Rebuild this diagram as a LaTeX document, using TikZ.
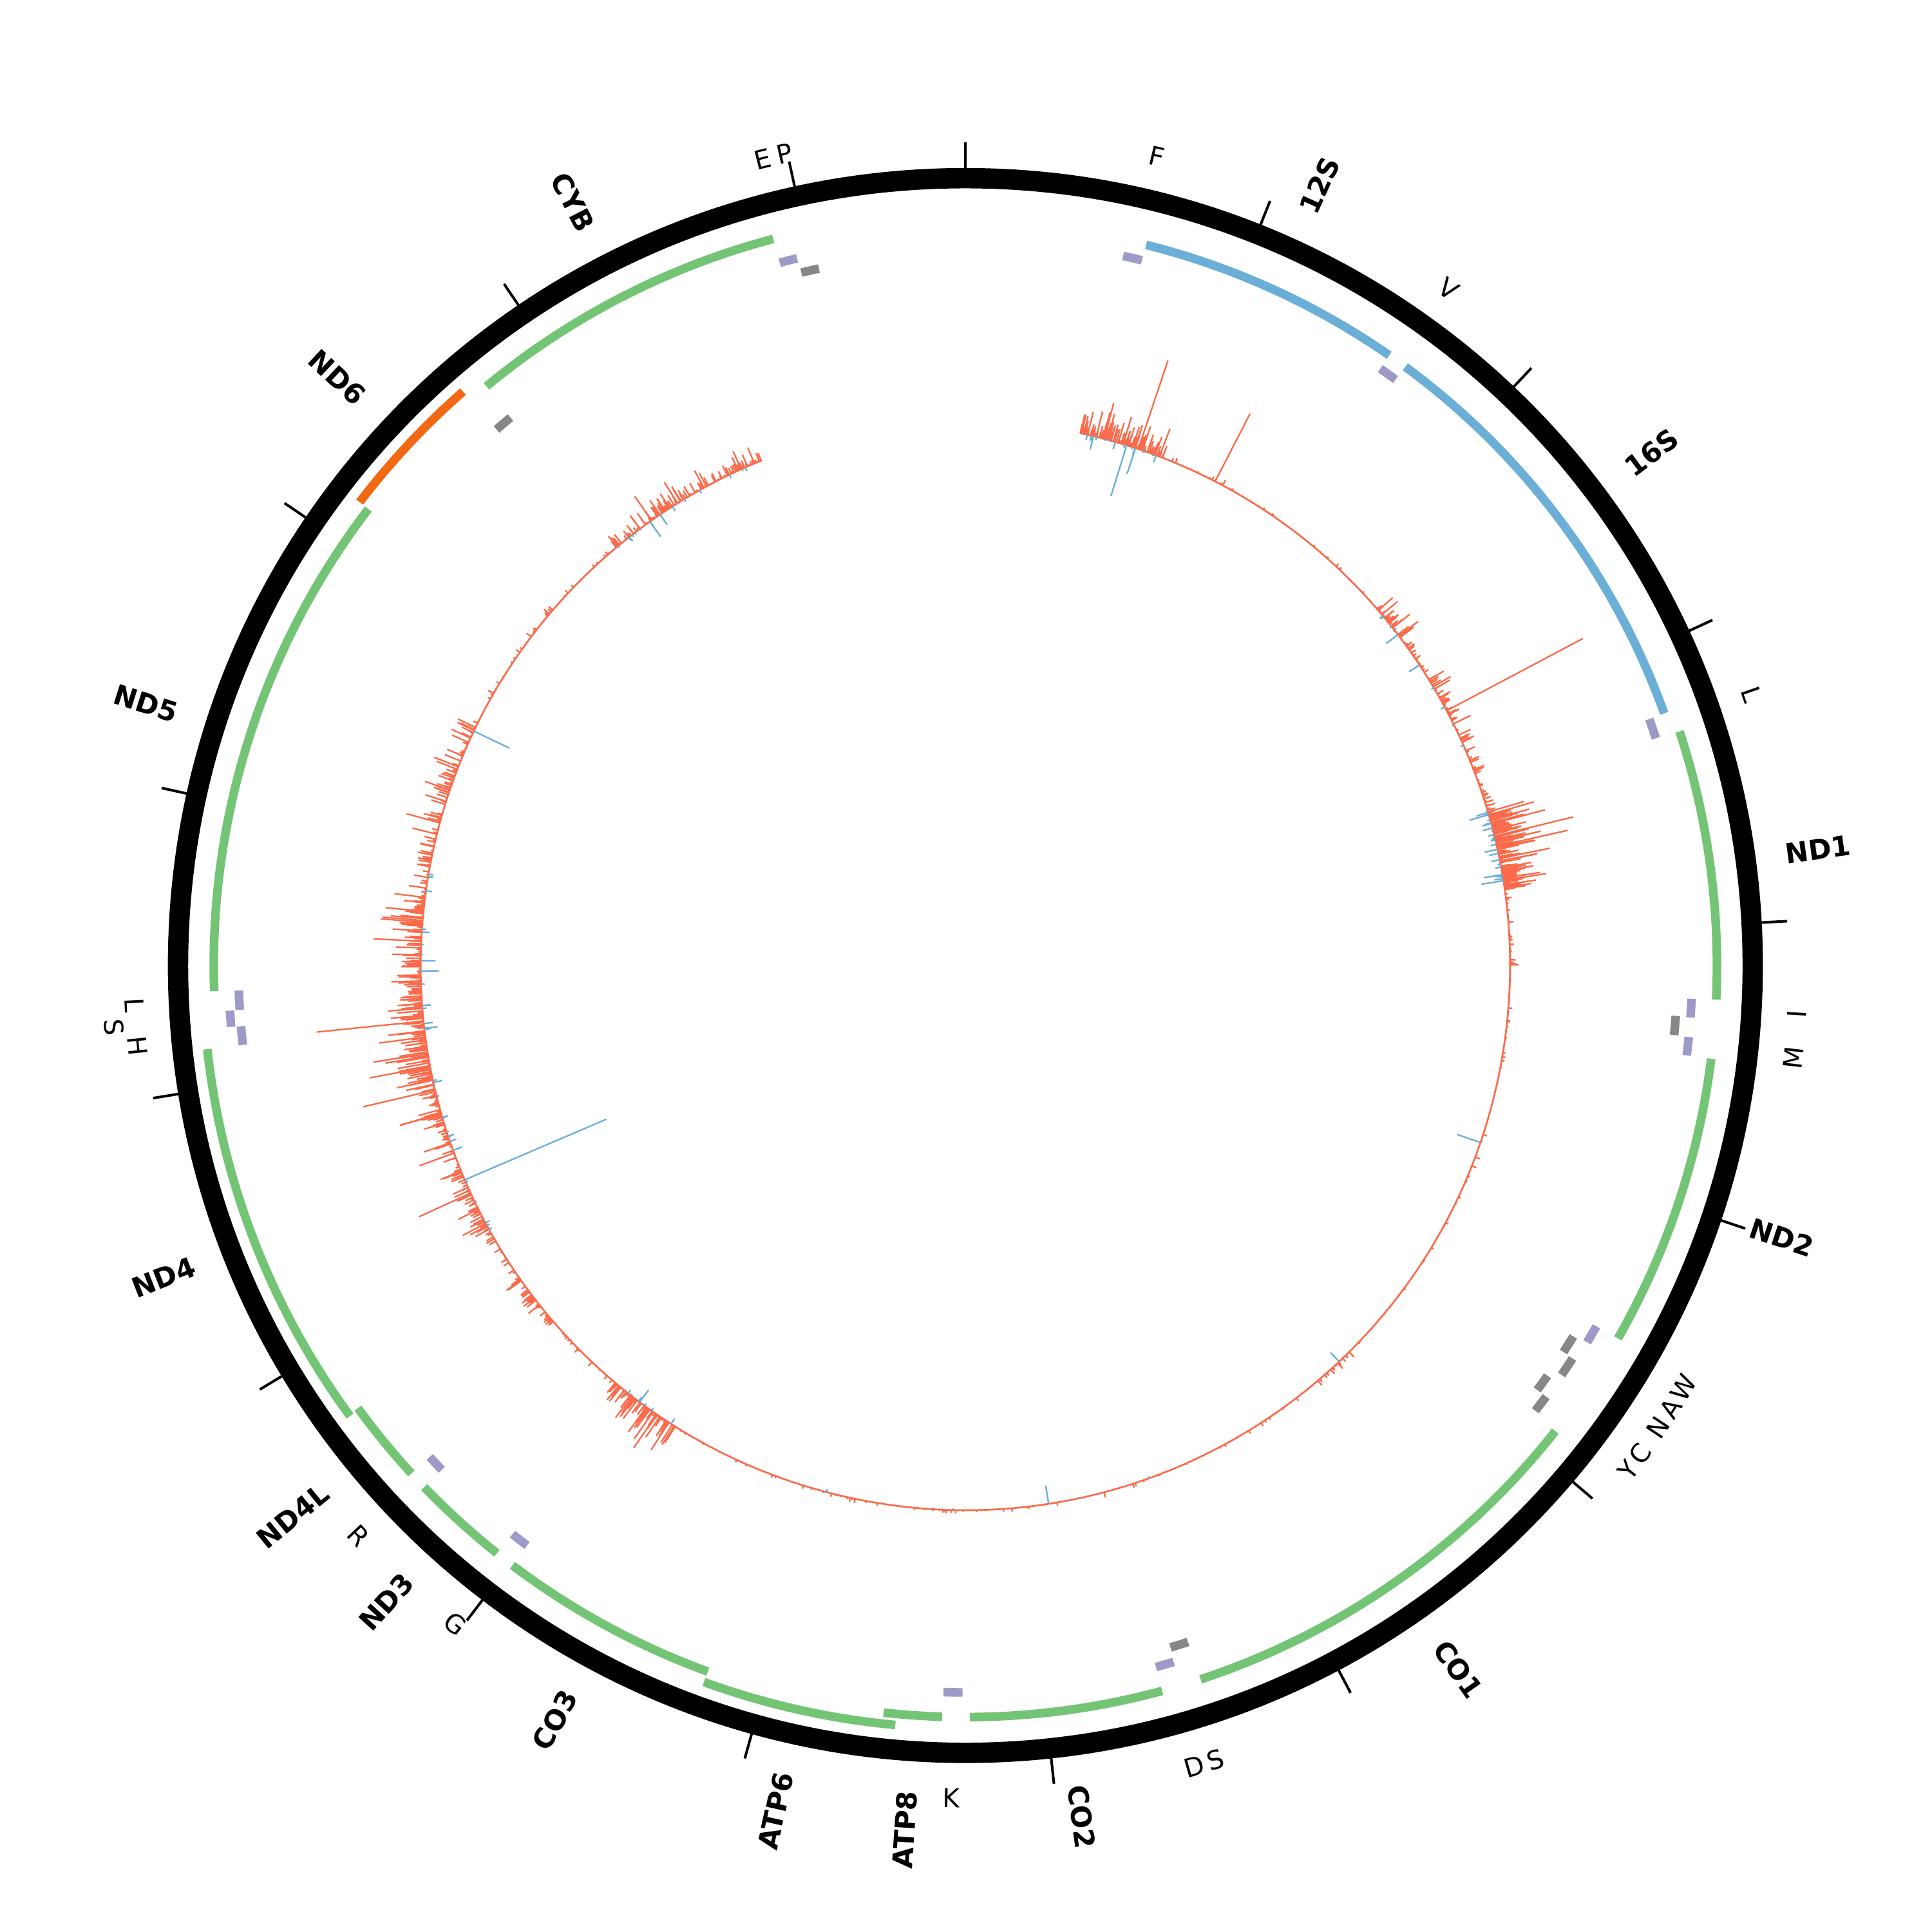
\documentclass[tikz,border=0pt]{standalone}
\usepackage{fontspec}
\setmainfont{DejaVu Sans}
\definecolor{geneH}{HTML}{74C476}
\definecolor{geneL}{HTML}{F16913}
\definecolor{rrna}{HTML}{6BAED6}
\definecolor{trnaH}{HTML}{9E9AC8}
\definecolor{trnaL}{HTML}{878787}
\definecolor{covPlus}{HTML}{FB6A4A}
\definecolor{covMinus}{HTML}{6BAED6}
\pgfmathdeclarefunction{ang}{1}{\pgfmathparse{90-#1/46.025}}

\begin{document}
\begin{tikzpicture}[x=0.01cm, y=0.01cm]
        \tikzset{ring/.style={line width=0.165cm}, tick/.style={line width=0.6pt}, feat/.style={line width=0.07cm}, glab/.style={font=\fontsize{6.4}{7}\selectfont\bfseries, inner sep=0pt}, tlab/.style={font=\fontsize{6}{6.5}\selectfont, inner sep=0pt}, covp/.style={covPlus, line width=0.35pt}, covm/.style={covMinus, line width=0.35pt}}
        \useasboundingbox (-783.5,-784.4) rectangle (784.5,783.6);
        \draw[ring] (0,0) circle[radius=639];
        \foreach \k in {0,...,16} {\draw[tick] ({ang(\k*1000)}:640) -- ({ang(\k*1000)}:668);}
        \foreach \ps/\pe/\c/\r in {648/1601/rrna/603, 1671/3229/rrna/603, 3307/4262/geneH/610, 4470/5511/geneH/610, 5904/7445/geneH/610, 7586/8269/geneH/610, 8366/8572/geneH/610, 8527/9207/geneH/619, 9207/9990/geneH/610, 10059/10404/geneH/610, 10470/10766/geneH/610, 10760/12137/geneH/619, 12337/14148/geneH/610, 14149/14673/geneL/619, 14747/15887/geneH/610,
            577/647/trnaH/590, 1602/1670/trnaH/590, 3230/3304/trnaH/590, 4263/4331/trnaH/590, 4329/4400/trnaL/578, 4402/4469/trnaH/590, 5512/5579/trnaH/590, 5587/5655/trnaL/578, 5657/5729/trnaL/587, 5761/5826/trnaL/578, 5826/5891/trnaL/587, 7446/7514/trnaL/578, 7518/7585/trnaH/590, 8295/8364/trnaH/590, 9991/10058/trnaH/590, 10405/10469/trnaH/590, 12138/12206/trnaH/590, 12207/12265/trnaH/598, 12266/12336/trnaH/590, 14674/14742/trnaL/578, 15888/15953/trnaH/590, 15956/16023/trnaL/578}
            {\draw[feat, \c] ({ang(\ps)}:\r) arc[start angle={ang(\ps)}, end angle={ang(\pe)}, radius=\r];}
        \foreach \n/\m [count=\i] in {12S/1124, 16S/2450, ND1/3785, ND2/4990, CO1/6674, CO2/7927, ATP8/8469, ATP6/8867, CO3/9598, ND3/10231, ND4L/10618, ND4/11448, ND5/13242, ND6/14411, CYB/15317} {
            \pgfmathsetmacro\a{ang(\m)}
            \pgfmathtruncatemacro\side{\m<8284 ? 1 : 0}
            \ifnum\side=1 \node[glab, rotate=\a, anchor=west] (g\i) at (\a:671) {\n};
            \else \node[glab, rotate=\a+180, anchor=east] (g\i) at (\a:671) {\n};
            \fi}
        \foreach \n/\m/\r [count=\i] in {F/612/675, V/1636/675, L/3267/675, I/4297/676, M/4436/676, W/5545/676, A/5621/676, N/5693/676, C/5793/676, Y/5858/676, S/7480/676, D/7551/676, K/8330/676, G/10024/676, R/10437/676, H/12172/675, S/12236/693, L/12301/675, E/15920/675, P/15990/675} {
            \pgfmathsetmacro\a{ang(\m)}
            \pgfmathtruncatemacro\side{and(\m>4142, \m<12427) ? 1 : 0}
            \ifnum\side=1 \def\rot{\a+90}\else\def\rot{\a-90}\fi
            \node[tlab, rotate=\rot] (t\i) at (\a:\r) {\n};}
        \draw[covp, line width=0.4pt] ({ang(560)}:442) arc[start angle={ang(560)}, end angle={ang(15560)}, radius=442];
        \pgfmathsetseed{11}
        \foreach \ps/\pe/\hm/\nn in {560/967/26/170, 967/1381/6/20, 1381/2209/4/25, 2255/2439/22/55, 2439/2669/10/25, 2669/3130/20/75, 3130/3383/10/40, 3383/3774/42/180, 3774/4142/8/40, 4142/5293/5/40, 5293/6213/4/25, 6213/6444/8/20, 6444/7364/4/25, 7364/9205/5/70, 9205/9757/4/20, 9757/10126/30/90, 10126/10540/6/25, 10540/10816/18/55, 10816/11046/8/25, 11046/11700/26/110, 11700/12700/40/260, 12700/12887/20/35, 12887/13623/26/120, 13623/14360/7/40, 14360/14728/5/15, 14728/15556/18/160} {
            \foreach \j in {1,...,\nn} {
                \pgfmathsetmacro\p{\ps+rnd*(\pe-\ps)}
                \pgfmathsetmacro\q{442+\hm*rnd*rnd}
                \draw[covp] ({ang(\p)}:442) -- ({ang(\p)}:\q);}}
        \foreach \p/\h in {598/19, 680/30, 775/23, 852/76, 976/10, 1256/62, 2858/125, 3450/45, 3510/66, 3560/59, 3620/42, 9873/33, 11290/46, 11500/30, 11700/35, 11819/60, 11935/50, 12000/45, 12080/38, 12157/87, 12757/25, 13126/28, 14950/24, 15100/20, 15450/16, 15520/14}
            {\draw[covp] ({ang(\p)}:442) -- ({ang(\p)}:{442+\h});}
        \foreach \ps/\pe/\hm/\nn in {560/967/8/25, 2255/3130/8/20, 3383/3774/14/40, 7364/9205/4/15, 9757/10126/6/10, 11046/12887/12/45, 14728/15556/8/20} {
            \foreach \j in {1,...,\nn} {
                \pgfmathsetmacro\p{\ps+rnd*(\pe-\ps)}
                \pgfmathsetmacro\q{442-\hm*rnd*rnd}
                \draw[covm] ({ang(\p)}:442) -- ({ang(\p)}:\q);}}
        \foreach \p/\h in {626/11, 793/43, 838/22, 2420/12, 2600/10, 3402/16, 3700/15, 3730/18, 5015/20, 6290/10, 7880/15, 9975/12, 11360/125, 12400/15, 12450/12, 13600/32, 14940/15, 15000/10}
            {\draw[covm] ({ang(\p)}:442) -- ({ang(\p)}:{442-\h});}
    \end{tikzpicture}
\end{document}
